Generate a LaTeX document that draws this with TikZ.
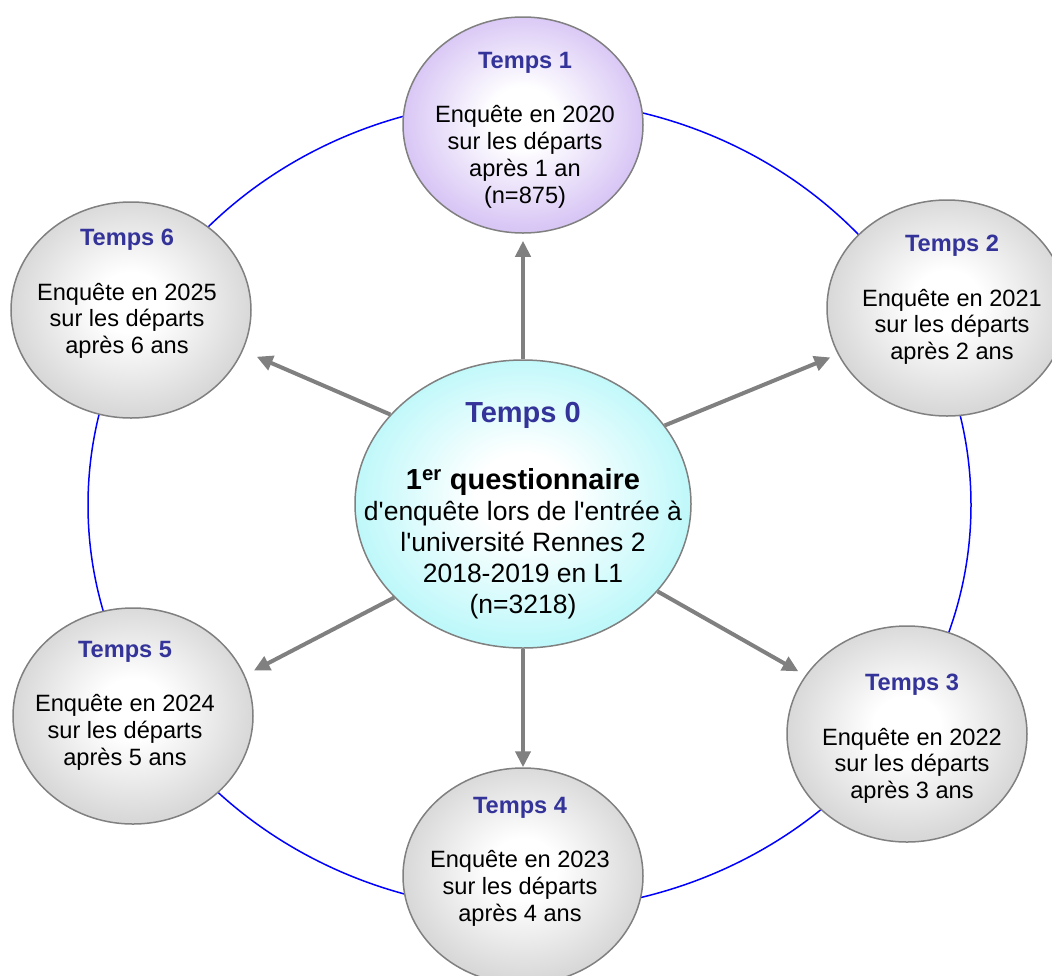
\documentclass[tikz,border=0pt]{standalone}
\usepackage{fontspec}
\setmainfont{Liberation Sans}
\usetikzlibrary{arrows.meta,shapes.geometric}

\definecolor{titleblue}{HTML}{333399}
\definecolor{rimgrey}{HTML}{808080}
\definecolor{ballgrey}{HTML}{D8D8D8}
\definecolor{balllilac}{HTML}{D8C6F5}
\definecolor{ballcyan}{HTML}{BFF8FA}

\pgfdeclareradialshading{greyball}{\pgfpoint{0bp}{2bp}}{color(0bp)=(white); color(7bp)=(white); color(25bp)=(ballgrey); color(50bp)=(ballgrey)}
\pgfdeclareradialshading{lilacball}{\pgfpoint{0bp}{2bp}}{color(0bp)=(white); color(7bp)=(white); color(25bp)=(balllilac); color(50bp)=(balllilac)}
\pgfdeclareradialshading{cyanball}{\pgfpoint{0bp}{2bp}}{color(0bp)=(white); color(7bp)=(white); color(25bp)=(ballcyan); color(50bp)=(ballcyan)}

\newcommand{\tempstitle}[1]{\textcolor{titleblue}{\textbf{Temps #1}}}

\begin{document}
\begin{tikzpicture}[x=1pt, y=-1pt,
    ball/.style={ellipse, draw=rimgrey, line width=1.5pt, inner sep=0pt, shade},
    smallball/.style={ball, minimum width=240pt, minimum height=216pt},
    txt/.style={anchor=north, align=center, inner sep=0pt, font=\fontsize{23.6}{26.8}\selectfont},
    arr/.style={draw=rimgrey, line width=4pt, -{Triangle[length=16pt,width=15pt]}}]

    % Fix the size of the picture
    \useasboundingbox (0,0) rectangle (1052,975);
    \clip (0,0) rectangle (1052,975);

    % Draw the blue ring behind the bubbles
    \draw[blue, line width=1.5pt] (529.5,505) ellipse [x radius=441.5pt, y radius=405.5pt];

    % Draw the bubbles
    \node[ball, shading=cyanball, minimum width=336pt, minimum height=288pt] (t0) at (523,504) {};
    \node[smallball, shading=lilacball] (t1) at (523,125) {};
    \node[smallball, shading=greyball] (t2) at (947,308) {};
    \node[smallball, shading=greyball] (t3) at (907,734) {};
    \node[smallball, shading=greyball] (t4) at (523,876) {};
    \node[smallball, shading=greyball] (t5) at (133,716) {};
    \node[smallball, shading=greyball] (t6) at (131,310) {};

    % Add the texts
    \node[txt, font=\fontsize{26.5}{31}\selectfont] (t0txt) at (523,401.6) {{\fontsize{29}{33}\selectfont\tempstitle{0}}\\[36pt]
        {\fontsize{29}{33}\selectfont\textbf{1\textsuperscript{er} questionnaire}}\\
        d\textquotesingle{}enquête lors de l\textquotesingle{}entrée à\\
        l\textquotesingle{}université Rennes 2\\
        2018-2019 en L1\\
        (n=3218)};
    \node[txt] (t1txt) at (525,51.6) {\tempstitle{1}\\[28pt] Enquête en 2020\\ sur les départs\\ après 1 an\\ (n=875)};
    \node[txt] (t2txt) at (952,234.6) {\tempstitle{2}\\[28pt] Enquête en 2021\\ sur les départs\\ après 2 ans};
    \node[txt] (t3txt) at (912,673.6) {\tempstitle{3}\\[28pt] Enquête en 2022\\ sur les départs\\ après 3 ans};
    \node[txt] (t4txt) at (520,796.6) {\tempstitle{4}\\[28pt] Enquête en 2023\\ sur les départs\\ après 4 ans};
    \node[txt] (t5txt) at (125,640.6) {\tempstitle{5}\\[28pt] Enquête en 2024\\ sur les départs\\ après 5 ans};
    \node[txt] (t6txt) at (127,228.6) {\tempstitle{6}\\[28pt] Enquête en 2025\\ sur les départs\\ après 6 ans};

    % Draw the arrows from the centre
    \draw[arr, shorten >=7pt] (t0.north) -- (t1.south);
    \draw[arr, shorten >=8pt] (t0.29) -- (t2.203);
    \draw[arr, shorten >=8pt] (t0.-33) -- (t3.150);
    \draw[arr] (t0.south) -- (t4.north);
    \draw[arr, shorten >=10pt] (t0.216) -- (t5.20);
    \draw[arr, shorten >=15pt] (t0.146) -- (t6.-20);

\end{tikzpicture}
\end{document}
